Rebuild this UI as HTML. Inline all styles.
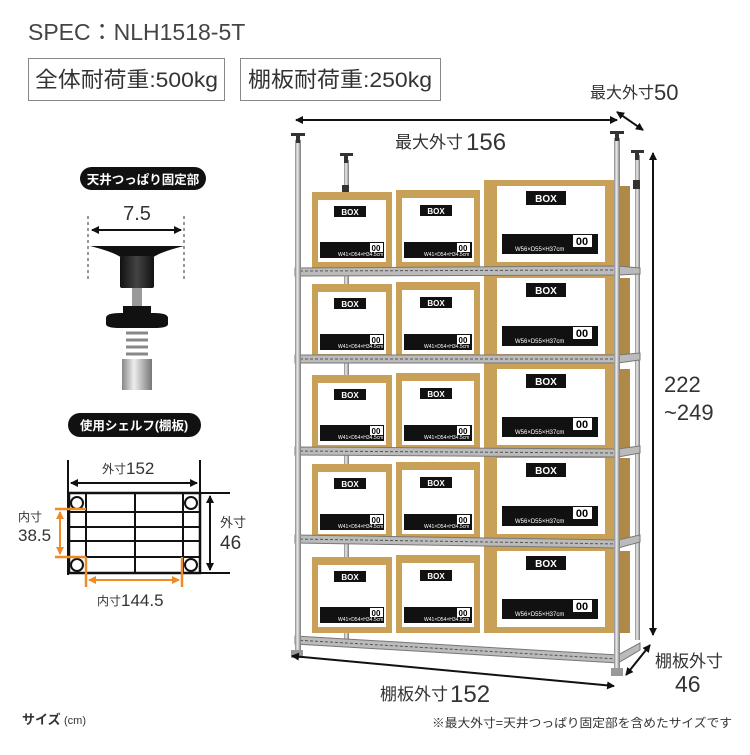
<!DOCTYPE html>
<html><head><meta charset="utf-8"><style>
body{margin:0;background:#fff;width:750px;height:750px;overflow:hidden}
svg text{font-family:"Liberation Sans","Noto Sans CJK JP",sans-serif}
</style></head><body>
<svg width="750" height="750" viewBox="0 0 750 750" xmlns="http://www.w3.org/2000/svg">
<defs>
<marker id="ah" markerWidth="8" markerHeight="8" refX="7" refY="4" orient="auto-start-reverse" markerUnits="userSpaceOnUse"><path d="M0,0 L8,4 L0,8 z" fill="#111"/></marker>
<marker id="ao" markerWidth="8" markerHeight="8" refX="7" refY="4" orient="auto-start-reverse" markerUnits="userSpaceOnUse"><path d="M0,0 L8,4 L0,8 z" fill="#f08a24"/></marker>
<linearGradient id="pole" x1="0" x2="1"><stop offset="0" stop-color="#888"/><stop offset=".4" stop-color="#eee"/><stop offset="1" stop-color="#777"/></linearGradient>
<linearGradient id="cap" x1="0" x2="1"><stop offset="0" stop-color="#111"/><stop offset=".5" stop-color="#444"/><stop offset="1" stop-color="#111"/></linearGradient>
</defs>

<!-- header -->
<text x="28" y="40" font-size="23" fill="#444">SPEC：NLH1518-5T</text>
<rect x="28.5" y="58.5" width="196" height="42" fill="none" stroke="#888"/>
<text x="35" y="87" font-size="21.5" fill="#333" textLength="183" lengthAdjust="spacingAndGlyphs">全体耐荷重:500kg</text>
<rect x="240.5" y="58.5" width="200" height="42" fill="none" stroke="#888"/>
<text x="248" y="87" font-size="21.5" fill="#333" textLength="184" lengthAdjust="spacingAndGlyphs">棚板耐荷重:250kg</text>

<!-- pills -->
<rect x="80" y="167" width="126" height="23" rx="11.5" fill="#111"/>
<text x="143" y="184" font-size="12.5" font-weight="bold" fill="#fff" text-anchor="middle">天井つっぱり固定部</text>
<rect x="68" y="413" width="133" height="24" rx="12" fill="#111"/>
<text x="134" y="430" font-size="12.5" font-weight="bold" fill="#fff" text-anchor="middle">使用シェルフ(棚板)</text>

<!-- fixture part -->
<text x="137" y="220" font-size="20" fill="#333" text-anchor="middle">7.5</text>
<line x1="88" y1="216" x2="88" y2="280" stroke="#333" stroke-dasharray="3,3"/>
<line x1="184" y1="216" x2="184" y2="280" stroke="#333" stroke-dasharray="3,3"/>
<line x1="92" y1="230" x2="181" y2="230" stroke="#111" stroke-width="2" marker-start="url(#ah)" marker-end="url(#ah)"/>
<path d="M90,246 L184,246 Q160,252 152,258 L122,258 Q114,252 90,246z" fill="#111"/>
<rect x="120" y="256" width="34" height="32" rx="2" fill="url(#cap)"/>
<rect x="132" y="288" width="10" height="24" fill="#999"/>
<path d="M106,318 Q106,313 120,313 L154,313 Q168,313 168,318 L168,324 Q168,328 154,328 L120,328 Q106,328 106,324z" fill="#111"/>
<rect x="123" y="306" width="28" height="22" fill="#111"/>
<g stroke="#888" stroke-width="3"><line x1="126" y1="333" x2="148" y2="333"/><line x1="126" y1="340" x2="148" y2="340"/><line x1="126" y1="347" x2="148" y2="347"/><line x1="126" y1="354" x2="148" y2="354"/></g>
<rect x="122" y="359" width="30" height="31" fill="url(#pole)"/>

<!-- shelf plan diagram -->
<text x="102" y="473" font-size="12" fill="#333">外寸</text><text x="126" y="474" font-size="17" fill="#333">152</text>
<line x1="68" y1="460" x2="68" y2="575" stroke="#111" stroke-width="2"/>
<line x1="200" y1="460" x2="200" y2="493" stroke="#111" stroke-width="2"/>
<line x1="71" y1="483" x2="197" y2="483" stroke="#111" stroke-width="2" marker-start="url(#ah)" marker-end="url(#ah)"/>
<rect x="69" y="493" width="131" height="80" fill="none" stroke="#111" stroke-width="2.5"/>
<g stroke="#111" stroke-width="2">
<line x1="86" y1="493" x2="86" y2="573"/><line x1="135" y1="493" x2="135" y2="573"/><line x1="183" y1="493" x2="183" y2="573"/>
<line x1="69" y1="512" x2="200" y2="512"/><line x1="69" y1="527" x2="200" y2="527"/><line x1="69" y1="541" x2="200" y2="541"/><line x1="69" y1="557" x2="200" y2="557"/>
<line x1="200" y1="493" x2="230" y2="493"/><line x1="200" y1="573" x2="230" y2="573"/>
</g>
<g fill="#fff" stroke="#111" stroke-width="2"><circle cx="77" cy="503" r="6"/><circle cx="191" cy="503" r="6"/><circle cx="77" cy="565" r="6"/><circle cx="191" cy="565" r="6"/></g>
<line x1="210" y1="496" x2="210" y2="570" stroke="#111" stroke-width="2" marker-start="url(#ah)" marker-end="url(#ah)"/>
<text x="220" y="527" font-size="13" fill="#333">外寸</text><text x="220" y="549" font-size="19" fill="#333">46</text>
<g stroke="#f08a24" stroke-width="2.5">
<line x1="55" y1="509" x2="86" y2="509"/><line x1="55" y1="557" x2="86" y2="557"/>
<line x1="86" y1="557" x2="86" y2="587"/><line x1="182" y1="557" x2="182" y2="587"/>
</g>
<line x1="60" y1="512" x2="60" y2="554" stroke="#f08a24" stroke-width="2" marker-start="url(#ao)" marker-end="url(#ao)"/>
<line x1="89" y1="580" x2="179" y2="580" stroke="#f08a24" stroke-width="2" marker-start="url(#ao)" marker-end="url(#ao)"/>
<text x="18" y="521" font-size="12" fill="#333">内寸</text><text x="18" y="541" font-size="17" fill="#333">38.5</text>
<text x="97" y="605" font-size="12" fill="#333">内寸</text><text x="121" y="606" font-size="17" fill="#333">144.5</text>

<!-- rack posts -->
<g>
<rect x="344" y="160" width="5" height="480" fill="url(#pole)"/>
<rect x="635" y="155" width="5" height="485" fill="url(#pole)"/>
<g fill="#333">
<rect x="340" y="153" width="13" height="3"/><rect x="344" y="155" width="4" height="8"/><rect x="342" y="185" width="7" height="8"/>
<rect x="631" y="150" width="13" height="3"/><rect x="635" y="152" width="4" height="8"/><rect x="633" y="180" width="7" height="9"/>
</g>
</g>

<!-- boxes -->
<g font-family="Liberation Sans, sans-serif">
<rect x="312" y="192" width="80" height="76" fill="#c8a058"/><rect x="318" y="200" width="68" height="62" fill="#fff"/>
<rect x="334" y="206" width="32" height="11" fill="#111"/><text x="350" y="215" font-size="8" fill="#fff" text-anchor="middle" font-weight="bold">BOX</text>
<rect x="320" y="242" width="64" height="16" fill="#111"/><rect x="370" y="243" width="13" height="9" fill="#fff"/><text x="376" y="251" font-size="8" text-anchor="middle" font-weight="bold">00</text>
<text x="338" y="256" font-size="5" fill="#fff">W41×D54×H34.5cm</text>
<rect x="396" y="190" width="84" height="78" fill="#c8a058"/><rect x="402" y="198" width="72" height="64" fill="#fff"/>
<rect x="420" y="205" width="32" height="11" fill="#111"/><text x="436" y="214" font-size="8" fill="#fff" text-anchor="middle" font-weight="bold">BOX</text>
<rect x="404" y="242" width="68" height="16" fill="#111"/><rect x="457" y="243" width="13" height="9" fill="#fff"/><text x="463" y="251" font-size="8" text-anchor="middle" font-weight="bold">00</text>
<text x="424" y="256" font-size="5" fill="#fff">W41×D54×H34.5cm</text>
<rect x="484" y="180" width="134" height="88" fill="#c8a058"/><rect x="618" y="186" width="12" height="82" fill="#b08848"/><rect x="497" y="186" width="108" height="76" fill="#fff"/>
<rect x="526" y="191" width="40" height="14" fill="#111"/><text x="546" y="202" font-size="10" fill="#fff" text-anchor="middle" font-weight="bold">BOX</text>
<rect x="502" y="234" width="96" height="20" fill="#111"/><rect x="573" y="235" width="19" height="12" fill="#fff"/><text x="582" y="245" font-size="11" text-anchor="middle" font-weight="bold">00</text>
<text x="515" y="251" font-size="6" fill="#fff">W56×D55×H37cm</text>
</g>
<g font-family="Liberation Sans, sans-serif" transform="translate(0,92)">
<rect x="312" y="192" width="80" height="76" fill="#c8a058"/><rect x="318" y="200" width="68" height="62" fill="#fff"/>
<rect x="334" y="206" width="32" height="11" fill="#111"/><text x="350" y="215" font-size="8" fill="#fff" text-anchor="middle" font-weight="bold">BOX</text>
<rect x="320" y="242" width="64" height="16" fill="#111"/><rect x="370" y="243" width="13" height="9" fill="#fff"/><text x="376" y="251" font-size="8" text-anchor="middle" font-weight="bold">00</text>
<text x="338" y="256" font-size="5" fill="#fff">W41×D54×H34.5cm</text>
<rect x="396" y="190" width="84" height="78" fill="#c8a058"/><rect x="402" y="198" width="72" height="64" fill="#fff"/>
<rect x="420" y="205" width="32" height="11" fill="#111"/><text x="436" y="214" font-size="8" fill="#fff" text-anchor="middle" font-weight="bold">BOX</text>
<rect x="404" y="242" width="68" height="16" fill="#111"/><rect x="457" y="243" width="13" height="9" fill="#fff"/><text x="463" y="251" font-size="8" text-anchor="middle" font-weight="bold">00</text>
<text x="424" y="256" font-size="5" fill="#fff">W41×D54×H34.5cm</text>
<rect x="484" y="180" width="134" height="88" fill="#c8a058"/><rect x="618" y="186" width="12" height="82" fill="#b08848"/><rect x="497" y="186" width="108" height="76" fill="#fff"/>
<rect x="526" y="191" width="40" height="14" fill="#111"/><text x="546" y="202" font-size="10" fill="#fff" text-anchor="middle" font-weight="bold">BOX</text>
<rect x="502" y="234" width="96" height="20" fill="#111"/><rect x="573" y="235" width="19" height="12" fill="#fff"/><text x="582" y="245" font-size="11" text-anchor="middle" font-weight="bold">00</text>
<text x="515" y="251" font-size="6" fill="#fff">W56×D55×H37cm</text>
</g>
<g font-family="Liberation Sans, sans-serif" transform="translate(0,183)">
<rect x="312" y="192" width="80" height="76" fill="#c8a058"/><rect x="318" y="200" width="68" height="62" fill="#fff"/>
<rect x="334" y="206" width="32" height="11" fill="#111"/><text x="350" y="215" font-size="8" fill="#fff" text-anchor="middle" font-weight="bold">BOX</text>
<rect x="320" y="242" width="64" height="16" fill="#111"/><rect x="370" y="243" width="13" height="9" fill="#fff"/><text x="376" y="251" font-size="8" text-anchor="middle" font-weight="bold">00</text>
<text x="338" y="256" font-size="5" fill="#fff">W41×D54×H34.5cm</text>
<rect x="396" y="190" width="84" height="78" fill="#c8a058"/><rect x="402" y="198" width="72" height="64" fill="#fff"/>
<rect x="420" y="205" width="32" height="11" fill="#111"/><text x="436" y="214" font-size="8" fill="#fff" text-anchor="middle" font-weight="bold">BOX</text>
<rect x="404" y="242" width="68" height="16" fill="#111"/><rect x="457" y="243" width="13" height="9" fill="#fff"/><text x="463" y="251" font-size="8" text-anchor="middle" font-weight="bold">00</text>
<text x="424" y="256" font-size="5" fill="#fff">W41×D54×H34.5cm</text>
<rect x="484" y="180" width="134" height="88" fill="#c8a058"/><rect x="618" y="186" width="12" height="82" fill="#b08848"/><rect x="497" y="186" width="108" height="76" fill="#fff"/>
<rect x="526" y="191" width="40" height="14" fill="#111"/><text x="546" y="202" font-size="10" fill="#fff" text-anchor="middle" font-weight="bold">BOX</text>
<rect x="502" y="234" width="96" height="20" fill="#111"/><rect x="573" y="235" width="19" height="12" fill="#fff"/><text x="582" y="245" font-size="11" text-anchor="middle" font-weight="bold">00</text>
<text x="515" y="251" font-size="6" fill="#fff">W56×D55×H37cm</text>
</g>
<g font-family="Liberation Sans, sans-serif" transform="translate(0,272)">
<rect x="312" y="192" width="80" height="76" fill="#c8a058"/><rect x="318" y="200" width="68" height="62" fill="#fff"/>
<rect x="334" y="206" width="32" height="11" fill="#111"/><text x="350" y="215" font-size="8" fill="#fff" text-anchor="middle" font-weight="bold">BOX</text>
<rect x="320" y="242" width="64" height="16" fill="#111"/><rect x="370" y="243" width="13" height="9" fill="#fff"/><text x="376" y="251" font-size="8" text-anchor="middle" font-weight="bold">00</text>
<text x="338" y="256" font-size="5" fill="#fff">W41×D54×H34.5cm</text>
<rect x="396" y="190" width="84" height="78" fill="#c8a058"/><rect x="402" y="198" width="72" height="64" fill="#fff"/>
<rect x="420" y="205" width="32" height="11" fill="#111"/><text x="436" y="214" font-size="8" fill="#fff" text-anchor="middle" font-weight="bold">BOX</text>
<rect x="404" y="242" width="68" height="16" fill="#111"/><rect x="457" y="243" width="13" height="9" fill="#fff"/><text x="463" y="251" font-size="8" text-anchor="middle" font-weight="bold">00</text>
<text x="424" y="256" font-size="5" fill="#fff">W41×D54×H34.5cm</text>
<rect x="484" y="180" width="134" height="88" fill="#c8a058"/><rect x="618" y="186" width="12" height="82" fill="#b08848"/><rect x="497" y="186" width="108" height="76" fill="#fff"/>
<rect x="526" y="191" width="40" height="14" fill="#111"/><text x="546" y="202" font-size="10" fill="#fff" text-anchor="middle" font-weight="bold">BOX</text>
<rect x="502" y="234" width="96" height="20" fill="#111"/><rect x="573" y="235" width="19" height="12" fill="#fff"/><text x="582" y="245" font-size="11" text-anchor="middle" font-weight="bold">00</text>
<text x="515" y="251" font-size="6" fill="#fff">W56×D55×H37cm</text>
</g>
<g font-family="Liberation Sans, sans-serif" transform="translate(0,365)">
<rect x="312" y="192" width="80" height="76" fill="#c8a058"/><rect x="318" y="200" width="68" height="62" fill="#fff"/>
<rect x="334" y="206" width="32" height="11" fill="#111"/><text x="350" y="215" font-size="8" fill="#fff" text-anchor="middle" font-weight="bold">BOX</text>
<rect x="320" y="242" width="64" height="16" fill="#111"/><rect x="370" y="243" width="13" height="9" fill="#fff"/><text x="376" y="251" font-size="8" text-anchor="middle" font-weight="bold">00</text>
<text x="338" y="256" font-size="5" fill="#fff">W41×D54×H34.5cm</text>
<rect x="396" y="190" width="84" height="78" fill="#c8a058"/><rect x="402" y="198" width="72" height="64" fill="#fff"/>
<rect x="420" y="205" width="32" height="11" fill="#111"/><text x="436" y="214" font-size="8" fill="#fff" text-anchor="middle" font-weight="bold">BOX</text>
<rect x="404" y="242" width="68" height="16" fill="#111"/><rect x="457" y="243" width="13" height="9" fill="#fff"/><text x="463" y="251" font-size="8" text-anchor="middle" font-weight="bold">00</text>
<text x="424" y="256" font-size="5" fill="#fff">W41×D54×H34.5cm</text>
<rect x="484" y="180" width="134" height="88" fill="#c8a058"/><rect x="618" y="186" width="12" height="82" fill="#b08848"/><rect x="497" y="186" width="108" height="76" fill="#fff"/>
<rect x="526" y="191" width="40" height="14" fill="#111"/><text x="546" y="202" font-size="10" fill="#fff" text-anchor="middle" font-weight="bold">BOX</text>
<rect x="502" y="234" width="96" height="20" fill="#111"/><rect x="573" y="235" width="19" height="12" fill="#fff"/><text x="582" y="245" font-size="11" text-anchor="middle" font-weight="bold">00</text>
<text x="515" y="251" font-size="6" fill="#fff">W56×D55×H37cm</text>
</g>

<!-- wire shelves -->
<g stroke="#777" fill="#bbb">
<path d="M295,268 L618,266 L640,268 L640,274 L618,275 L295,276z"/>
<path d="M295,355 L618,355 L640,353 L640,360 L618,363 L295,363z"/>
<path d="M295,447 L618,449 L640,446 L640,453 L618,457 L295,455z"/>
<path d="M295,535 L618,540 L640,535 L640,542 L618,548 L295,543z"/>
<path d="M295,636 L618,655 L640,643 L640,650 L618,663 L295,644z"/>
</g>
<g stroke="#555" stroke-width="1" stroke-dasharray="3,2" fill="none">
<path d="M295,271 L618,270"/><path d="M295,359 L618,359"/><path d="M295,451 L618,453"/><path d="M295,539 L618,544"/><path d="M295,640 L618,659"/>
</g>
<rect x="295" y="140" width="6" height="515" fill="url(#pole)"/>
<rect x="614" y="138" width="6" height="535" fill="url(#pole)"/>
<g fill="#333">
<rect x="291" y="133" width="14" height="3"/><rect x="296" y="135" width="4" height="8"/>
<rect x="610" y="131" width="14" height="3"/><rect x="615" y="133" width="4" height="8"/>
</g>
<rect x="291" y="650" width="12" height="8" fill="#999"/><rect x="611" y="668" width="12" height="8" fill="#999"/>

<!-- dimensions -->
<line x1="296" y1="120" x2="617" y2="120" stroke="#111" stroke-width="2" marker-start="url(#ah)" marker-end="url(#ah)"/>
<text x="395" y="148" font-size="17" fill="#333">最大外寸</text><text x="466" y="150" font-size="24" fill="#333">156</text>
<text x="590" y="98" font-size="16" fill="#333">最大外寸</text><text x="654" y="100" font-size="22" fill="#333">50</text>
<line x1="617" y1="112" x2="643" y2="130" stroke="#111" stroke-width="2" marker-start="url(#ah)" marker-end="url(#ah)"/>
<line x1="653" y1="153" x2="653" y2="635" stroke="#111" stroke-width="2" marker-start="url(#ah)" marker-end="url(#ah)"/>
<text x="664" y="392" font-size="22" fill="#333">222</text>
<text x="664" y="420" font-size="22" fill="#333">~249</text>
<line x1="292" y1="656" x2="614" y2="686" stroke="#111" stroke-width="2" marker-start="url(#ah)" marker-end="url(#ah)"/>
<text x="380" y="700" font-size="17" fill="#333">棚板外寸</text><text x="450" y="702" font-size="24" fill="#333">152</text>
<line x1="626" y1="675" x2="650" y2="645" stroke="#111" stroke-width="2" marker-start="url(#ah)" marker-end="url(#ah)"/>
<text x="655" y="667" font-size="17" fill="#333">棚板外寸</text>
<text x="675" y="692" font-size="23" fill="#333">46</text>

<!-- footer -->
<text x="22" y="724" font-size="13" font-weight="bold" fill="#333">サイズ</text><text x="64" y="724" font-size="11" fill="#333">(cm)</text>
<text x="432" y="727" font-size="12" fill="#333" textLength="300" lengthAdjust="spacingAndGlyphs">※最大外寸=天井つっぱり固定部を含めたサイズです</text>
</svg>
</body></html>
